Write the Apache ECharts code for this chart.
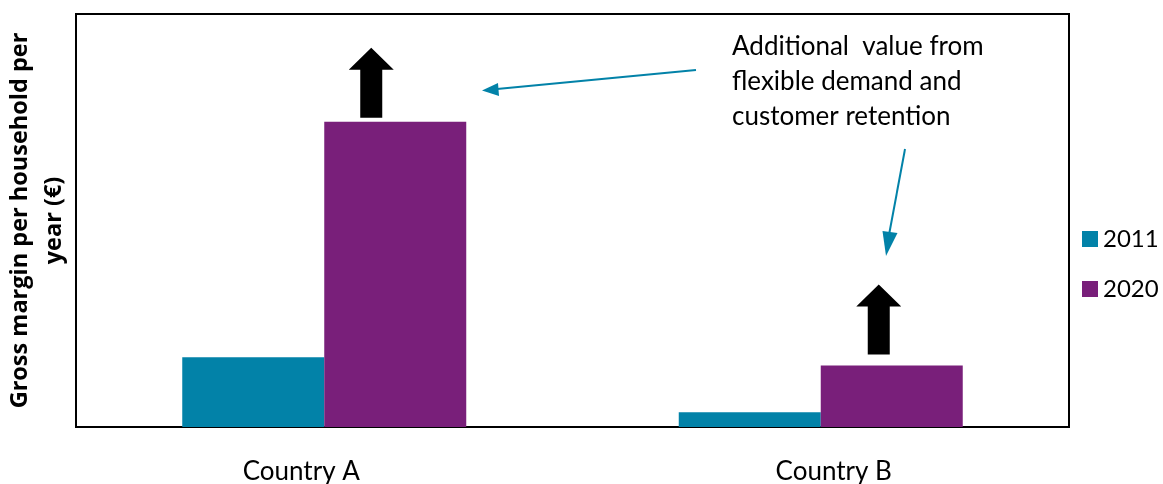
<!DOCTYPE html>
<html><head><meta charset="utf-8">
<script src="https://cdn.jsdelivr.net/npm/echarts@6/dist/echarts.min.js"></script>
<style>html,body{margin:0;padding:0;background:#fff}#c{width:1163px;height:484px}</style>
</head><body><div id="c"></div>
<script>
const categories = ['Country A', 'Country B'];
const seriesNames = ['2011', '2020'];
const values2011 = [16.9, 3.6];
const values2020 = [73.9, 14.9];
const annotationText = 'Additional  value from\nflexible demand and\ncustomer retention';
const yAxisTitle = 'Gross margin per household per\nyear (€)';

const FONT = 'Lato, "Open Sans", sans-serif';
const labelPads = [[0, 46, 0, 0], [0, 0, 0, 26]];
const chart = echarts.init(document.getElementById('c'), null, {renderer: 'canvas'});
const option = {
  animation: false,
  grid: {left: 76, top: 14, right: 94, bottom: 57, show: true, borderColor: '#000', borderWidth: 2, backgroundColor: '#fff', containLabel: false, outerBoundsMode: 'none'},
  legend: {
    orient: 'vertical', left: 1082, top: 227, padding: 0,
    itemWidth: 16, itemHeight: 16, itemGap: 26,
    textStyle: {fontSize: 24, fontFamily: FONT, color: '#000'},
    data: seriesNames.map(n => ({name: n, icon: 'rect'}))
  },
  xAxis: {
    type: 'category',
    data: categories.map((c, i) => ({value: c, textStyle: {padding: labelPads[i]}})),
    axisLine: {show: true, lineStyle: {color: '#000', width: 2}},
    axisTick: {show: false},
    axisLabel: {fontSize: 26, fontFamily: FONT, color: '#000', margin: 32}
  },
  yAxis: {
    type: 'value', min: 0, max: 100,
    axisLabel: {show: false}, axisTick: {show: false}, splitLine: {show: false},
    axisLine: {show: false},
    name: yAxisTitle, nameLocation: 'middle', nameRotate: 90, nameGap: 5,
    nameTextStyle: {fontSize: 23.5, fontWeight: 'bold', fontFamily: '"Open Sans", sans-serif', color: '#000', lineHeight: 34, align: 'center'}
  },
  series: [
    {name: seriesNames[0], type: 'bar', data: values2011, barWidth: '28.6%', barGap: '0%', itemStyle: {color: '#0282A8'}},
    {name: seriesNames[1], type: 'bar', data: values2020, barWidth: '28.6%', barGap: '0%', itemStyle: {color: '#791F7A'}}
  ]
};
chart.setOption(option);

function upArrow(cx, bottomY) {
  const top = bottomY - 70, headBase = top + 22;
  return {
    type: 'polygon', silent: true,
    shape: {points: [[cx, top], [cx + 22.5, headBase], [cx + 11, headBase], [cx + 11, bottomY], [cx - 11, bottomY], [cx - 11, headBase], [cx - 22.5, headBase]]},
    style: {fill: '#000'}
  };
}
const pA = chart.convertToPixel({seriesIndex: 1}, [categories[0], values2020[0]]);
const pB = chart.convertToPixel({seriesIndex: 1}, [categories[1], values2020[1]]);
const barHalf = 71;
const teal = '#0282A8';
chart.setOption({
  graphic: [
    upArrow(pA[0] + barHalf - 24, pA[1] - 4),
    upArrow(pB[0] + barHalf - 13, pB[1] - 11),
    {type: 'text', left: 732, top: 29, silent: true,
     style: {text: annotationText, fontSize: 26, fontFamily: FONT, fill: '#000', lineHeight: 35}},
    {type: 'line', silent: true, shape: {x1: 696, y1: 70, x2: 497, y2: 89}, style: {stroke: teal, lineWidth: 2}},
    {type: 'polygon', silent: true, shape: {points: [[482, 90.5], [498, 83], [499, 96]]}, style: {fill: teal}},
    {type: 'line', silent: true, shape: {x1: 905, y1: 149, x2: 889, y2: 235}, style: {stroke: teal, lineWidth: 2}},
    {type: 'polygon', silent: true, shape: {points: [[886, 256], [882.5, 231], [897.5, 233]]}, style: {fill: teal}}
  ]
});
</script></body></html>
